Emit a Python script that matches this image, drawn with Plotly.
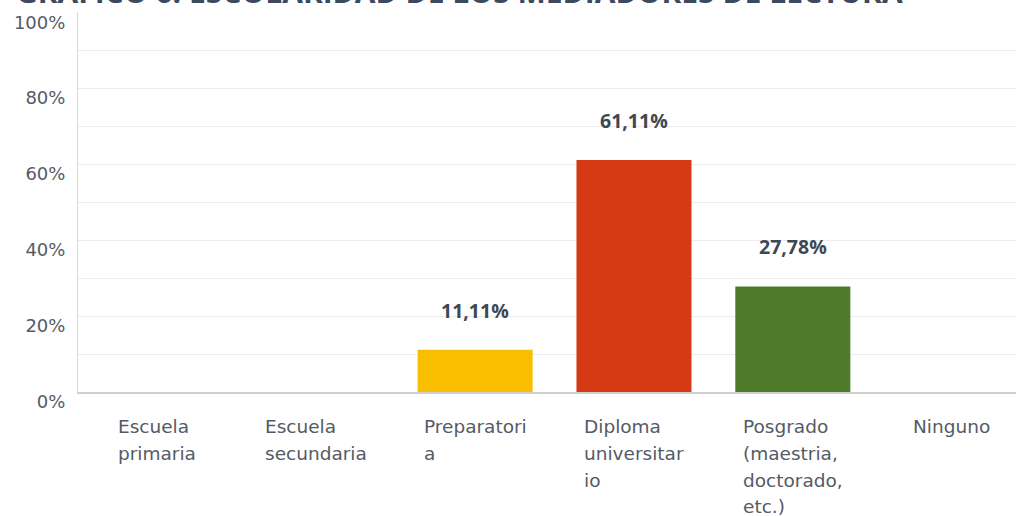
import plotly.graph_objects as go

categories = ["Escuela primaria", "Escuela secundaria", "Preparatoria",
              "Diploma universitario", "Posgrado (maestria, doctorado, etc.)", "Ninguno"]
tick_lines = [["Escuela", "primaria"], ["Escuela", "secundaria"], ["Preparatori", "a"],
              ["Diploma", "universitar", "io"], ["Posgrado", "(maestria,", "doctorado,", "etc.)"], ["Ninguno"]]
values = [0.0, 0.0, 0.1111, 0.6111, 0.2778, 0.0]
colors = ["#2dccd3", "#a5a5a5", "#f9be00", "#d63a15", "#4e7a29", "#6b4ea0"]
y_tickvals = [0, 0.2, 0.4, 0.6, 0.8, 1.0]
y_ticktext = ["0%", "20%", "40%", "60%", "80%", "100%"]
title_text = "GRÁFICO 6. ESCOLARIDAD DE LOS MEDIADORES DE LECTURA"

W, H = 1016, 516
L, T, B = 78, 12, 124

fig = go.Figure()
fig.add_trace(go.Bar(
    x=list(range(len(categories))), y=values,
    marker=dict(color=colors, line=dict(width=0)),
    hoverinfo="skip",
))

annotations = []
for i, v in enumerate(values):
    if v > 0:
        annotations.append(dict(
            x=i, y=v, xref="x", yref="y", yanchor="bottom", xanchor="center",
            yshift=24, showarrow=False,
            text=f"{v*100:.2f}%".replace(".", ","),
            font=dict(family="Open Sans", size=19.5, color="#3e4853", weight="bold"),
        ))
for i, lines in enumerate(tick_lines):
    txt = "<br>".join(f'<span style="font-size:18.5px">{s}</span>' for s in lines)
    annotations.append(dict(
        x=i, y=0, xref="x", yref="paper", yanchor="top", xanchor="center",
        yshift=-22, showarrow=False, align="left", text=txt,
        font=dict(family="DejaVu Sans", size=20.6, color="#545b66"),
    ))
annotations.append(dict(
    x=(905 - L) / (W - L), xref="paper", xanchor="right",
    y=1.0, yref="paper", yanchor="bottom", yshift=-2,
    showarrow=False, text=title_text,
    font=dict(family="Open Sans", size=30, color="#3b4a60", weight="bold"),
))

fig.update_layout(
    width=W, height=H,
    margin=dict(l=L, r=0, t=T, b=B, pad=0, autoexpand=False),
    paper_bgcolor="white", plot_bgcolor="white",
    bargap=0.276, showlegend=False,
    annotations=annotations,
    xaxis=dict(
        range=[-0.5, 5.405], showticklabels=False, showgrid=False, zeroline=False,
        showline=True, linecolor="#cfcfcf", linewidth=1.5, fixedrange=True, automargin=False,
    ),
    yaxis=dict(
        range=[0, 1.0005], tickvals=y_tickvals, ticktext=y_ticktext,
        showgrid=True, gridcolor="#ececec", gridwidth=1,
        minor=dict(tickvals=[0.1, 0.3, 0.5, 0.7, 0.9], showgrid=True, gridcolor="#ececec", gridwidth=1),
        zeroline=False, showline=True, linecolor="#d8d8d8", linewidth=1,
        ticks="", ticklabelshift=10, ticklabelstandoff=8, automargin=False,
        ticklabeloverflow="allow",
        tickfont=dict(family="DejaVu Sans", size=18, color="#545b66"),
        fixedrange=True,
    ),
)

fig.write_html("out.html", config={"displayModeBar": False},
               post_script="document.body.style.margin='0';document.body.style.overflow='hidden';")
